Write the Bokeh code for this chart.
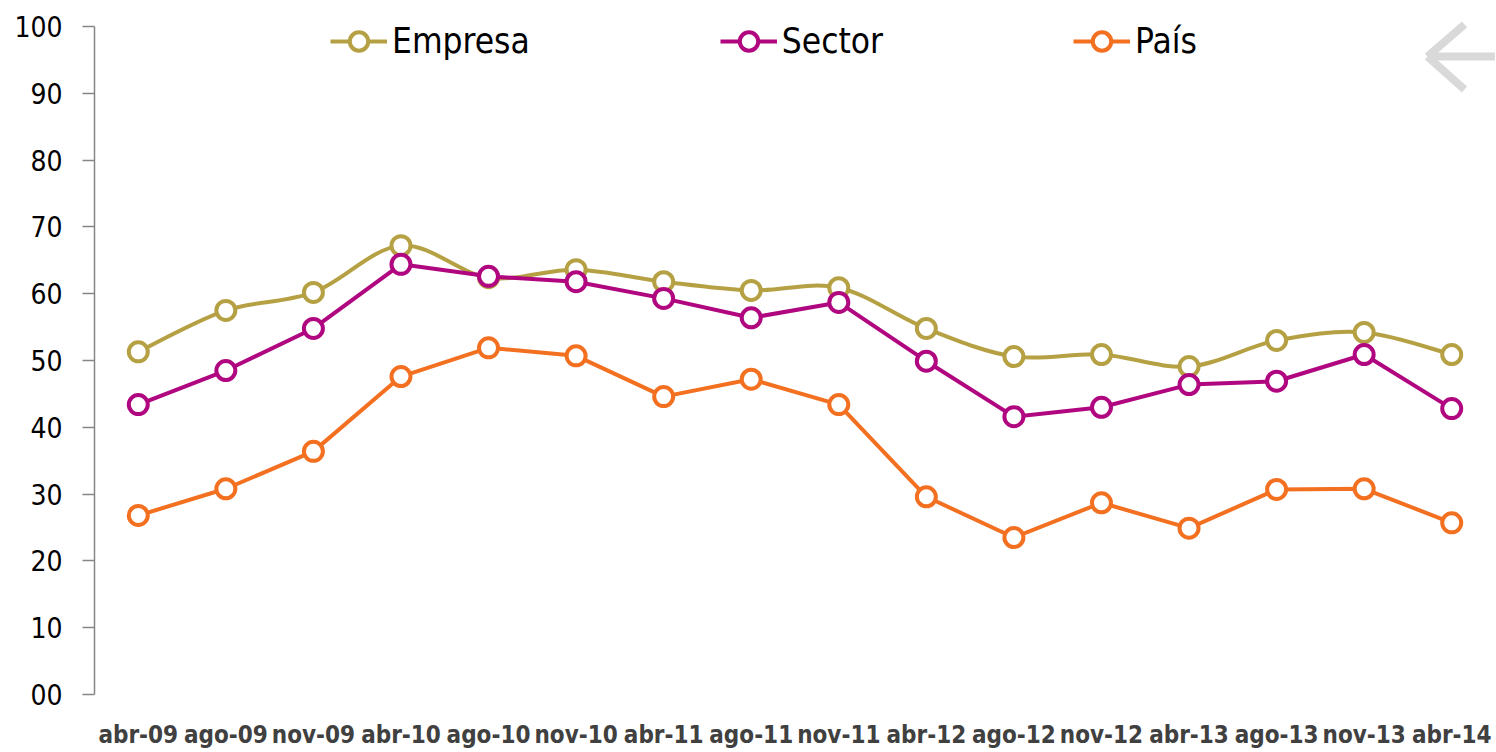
from bokeh.plotting import figure
from bokeh.models import (Range1d, FixedTicker, Legend, LegendItem, Arrow)
from bokeh.embed import file_html
from bokeh.resources import INLINE

categories = ["abr-09", "ago-09", "nov-09", "abr-10", "ago-10", "nov-10", "abr-11", "ago-11",
              "nov-11", "abr-12", "ago-12", "nov-12", "abr-13", "ago-13", "nov-13", "abr-14"]
empresa = [51.3, 57.5, 60.2, 67.2, 62.4, 63.6, 61.8, 60.5, 60.9, 54.8, 50.6, 50.9, 49.1, 53.0, 54.2, 50.9]
sector = [43.4, 48.5, 54.8, 64.4, 62.6, 61.8, 59.3, 56.4, 58.7, 49.9, 41.6, 43.0, 46.4, 46.9, 50.9, 42.8]
pais = [26.8, 30.8, 36.4, 47.6, 51.9, 50.7, 44.6, 47.2, 43.4, 29.6, 23.5, 28.7, 24.9, 30.7, 30.8, 25.7]
y_ticks = [0, 10, 20, 30, 40, 50, 60, 70, 80, 90, 100]
y_tick_labels = ["00", "10", "20", "30", "40", "50", "60", "70", "80", "90", "100"]

C_EMP = "#B5A143"
C_SEC = "#B0067F"
C_PAI = "#F37021"
NARROW = "'Liberation Sans Narrow', 'DejaVu Sans Condensed', 'Arial Narrow', sans-serif"

xs = [i + 0.5 for i in range(len(categories))]

p = figure(width=1495, height=751, output_backend="svg", toolbar_location=None,
           x_range=Range1d(0, len(categories)), y_range=Range1d(0, 103),
           min_border_left=94, min_border_right=0, min_border_top=6, min_border_bottom=57)
p.outline_line_color = None
p.xgrid.grid_line_color = None
p.ygrid.grid_line_color = None
p.background_fill_color = "white"
p.border_fill_color = "white"

# y axis
p.yaxis.bounds = (0, 100)
p.yaxis.ticker = FixedTicker(ticks=y_ticks)
p.yaxis.major_label_overrides = {t: l for t, l in zip(y_ticks, y_tick_labels)}
p.yaxis.axis_line_color = "#868686"
p.yaxis.axis_line_width = 1.5
p.yaxis.major_tick_line_color = "#868686"
p.yaxis.major_tick_line_width = 1.5
p.yaxis.major_tick_out = 12
p.yaxis.major_tick_in = 0
p.yaxis.minor_tick_line_color = None
p.yaxis.major_label_standoff = 20
p.yaxis.major_label_text_font = NARROW
p.yaxis.major_label_text_font_size = "28px"
p.yaxis.major_label_text_color = "#000000"

# x axis
p.xaxis.ticker = FixedTicker(ticks=xs)
p.xaxis.major_label_overrides = {x: c for x, c in zip(xs, categories)}
p.xaxis.axis_line_color = None
p.xaxis.major_tick_line_color = None
p.xaxis.minor_tick_line_color = None
p.xaxis.major_tick_out = 0
p.xaxis.major_label_standoff = 26
p.xaxis.major_label_text_font = NARROW
p.xaxis.major_label_text_font_style = "bold"
p.xaxis.major_label_text_font_size = "24px"
p.xaxis.major_label_text_color = "#404040"

# Smoothed Empresa line (Catmull-Rom bezier through the data points)
n = len(xs)
bx0, by0, bx1, by1, bcx0, bcy0, bcx1, bcy1 = [], [], [], [], [], [], [], []
for i in range(n - 1):
    xa, ya = (xs[i - 1], empresa[i - 1]) if i > 0 else (xs[i], empresa[i])
    xb, yb = xs[i], empresa[i]
    xc, yc = xs[i + 1], empresa[i + 1]
    xd, yd = (xs[i + 2], empresa[i + 2]) if i + 2 < n else (xc, yc)
    bx0.append(xb); by0.append(yb); bx1.append(xc); by1.append(yc)
    bcx0.append(xb + (xc - xa) / 6.0); bcy0.append(yb + (yc - ya) / 6.0)
    bcx1.append(xc - (xd - xb) / 6.0); bcy1.append(yc - (yd - yb) / 6.0)
emp_curve = p.bezier(x0=bx0, y0=by0, x1=bx1, y1=by1, cx0=bcx0, cy0=bcy0, cx1=bcx1, cy1=bcy1,
                     line_color=C_EMP, line_width=4)
emp_pts = p.scatter(xs, empresa, size=19, fill_color="white", line_color=C_EMP, line_width=4)

sec_line = p.line(xs, sector, line_color=C_SEC, line_width=4)
sec_pts = p.scatter(xs, sector, size=19, fill_color="white", line_color=C_SEC, line_width=4)

pai_line = p.line(xs, pais, line_color=C_PAI, line_width=4)
pai_pts = p.scatter(xs, pais, size=19, fill_color="white", line_color=C_PAI, line_width=4)

legend = Legend(items=[
    LegendItem(label="Empresa", renderers=[emp_curve, emp_pts]),
    LegendItem(label="Sector", renderers=[sec_line, sec_pts]),
    LegendItem(label="País", renderers=[pai_line, pai_pts]),
], orientation="horizontal", location=(236, 630), spacing=190,
    glyph_width=57, glyph_height=46, label_standoff=5, padding=0, margin=0,
    border_line_alpha=0, background_fill_alpha=0,
    label_text_font=NARROW, label_text_font_size="35px", label_text_color="#000000")
p.add_layout(legend, "center")

# decorative back arrow at top right
AR = "#D9D9D9"
for (xa, ya, xb, yb) in [(1333, 638, 1420, 638), (1333, 638, 1370, 670), (1333, 638, 1370, 605)]:
    p.add_layout(Arrow(end=None, start=None, x_start=xa, y_start=ya, x_end=xb, y_end=yb,
                       start_units="screen", end_units="screen",
                       line_color=AR, line_width=8, line_cap="butt"))

open("out.html", "w").write(file_html(p, INLINE))
